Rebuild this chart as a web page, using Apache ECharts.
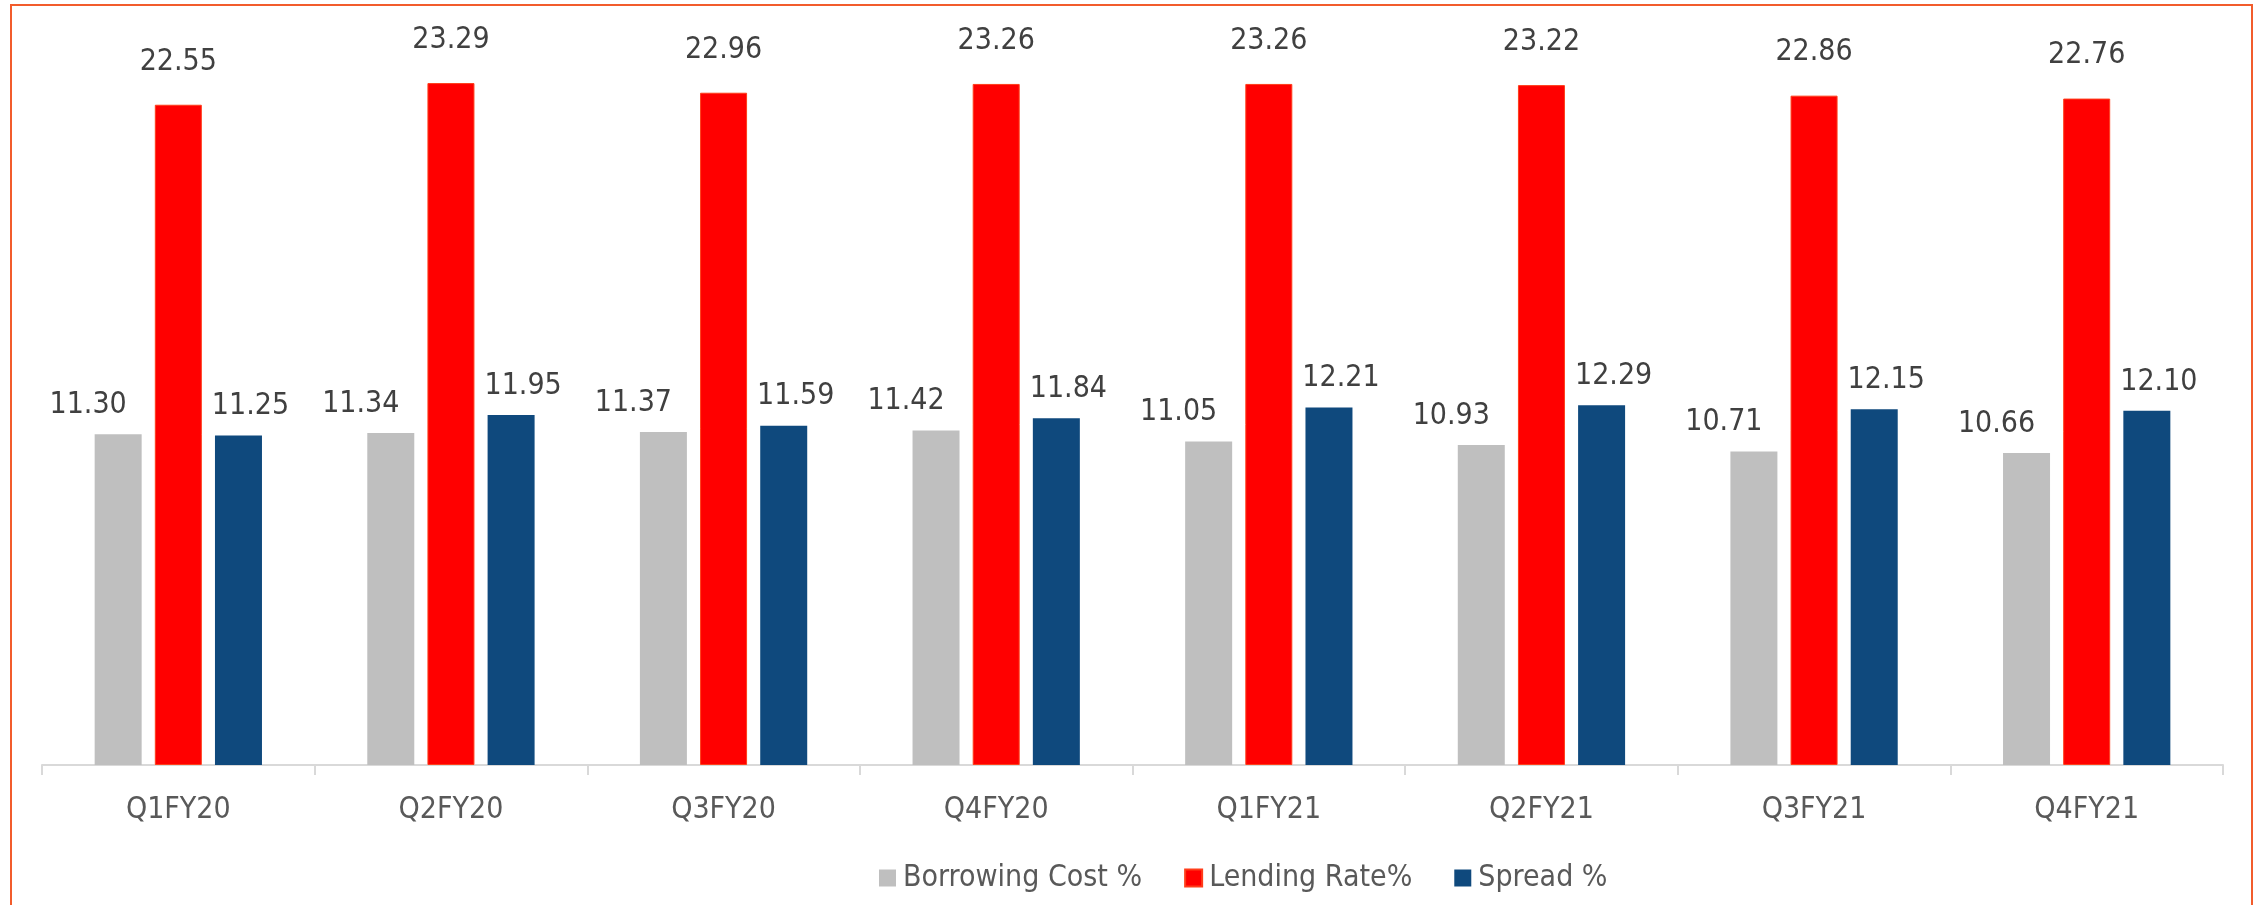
<!DOCTYPE html>
<html>
<head>
<meta charset="utf-8">
<script src="https://cdn.jsdelivr.net/npm/echarts@6/dist/echarts.min.js"></script>
<style>
  html, body { margin: 0; padding: 0; background: #ffffff; }
  #chart { width: 2258px; height: 905px; }
</style>
</head>
<body>
<div id="chart"></div>
<script>
var quarters = ['Q1FY20', 'Q2FY20', 'Q3FY20', 'Q4FY20', 'Q1FY21', 'Q2FY21', 'Q3FY21', 'Q4FY21'];
var borrowingCost = [11.30, 11.34, 11.37, 11.42, 11.05, 10.93, 10.71, 10.66];
var lendingRate = [22.55, 23.29, 22.96, 23.26, 23.26, 23.22, 22.86, 22.76];
var spread = [11.25, 11.95, 11.59, 11.84, 12.21, 12.29, 12.15, 12.10];

var fontName = "'DejaVu Sans Condensed', 'Liberation Sans Narrow', 'DejaVu Sans', sans-serif";

var myChart = echarts.init(document.getElementById('chart'));

var valueLabel = function (dist, offsetX) {
    return {
        show: true,
        position: 'top',
        distance: dist,
        offset: [offsetX, 0],
        color: '#404040',
        fontSize: 30,
        fontFamily: fontName,
        formatter: function (p) { return p.value.toFixed(2); }
    };
};

var option = {
    backgroundColor: '#ffffff',
    animation: false,
    graphic: [
        {
            type: 'rect',
            shape: { x: 11, y: 5, width: 2241, height: 1000 },
            style: { fill: 'none', stroke: '#F25C2C', lineWidth: 2 }
        }
    ],
    legend: {
        data: ['Borrowing Cost %', 'Lending Rate%', 'Spread %'],
        top: 858,
        left: 874,
        icon: 'rect',
        itemWidth: 17,
        itemHeight: 17,
        itemGap: 42,
        textStyle: {
            color: '#595959',
            fontSize: 30,
            fontFamily: fontName,
            padding: [0, 0, 0, 2]
        }
    },
    grid: {
        left: 42,
        right: 35,
        top: 33,
        bottom: 140
    },
    xAxis: {
        type: 'category',
        data: quarters,
        axisLine: { lineStyle: { color: '#D9D9D9', width: 2 } },
        axisTick: { show: true, length: 10, lineStyle: { color: '#D9D9D9', width: 2 } },
        axisLabel: {
            color: '#595959',
            fontSize: 30,
            fontFamily: fontName,
            margin: 30
        }
    },
    yAxis: {
        type: 'value',
        min: 0,
        max: 25,
        show: false,
        splitLine: { show: false }
    },
    series: [
        {
            name: 'Borrowing Cost %',
            type: 'bar',
            barWidth: 47,
            barGap: '28%',
            itemStyle: { color: '#BFBFBF' },
            label: valueLabel(14, -30),
            data: borrowingCost
        },
        {
            name: 'Lending Rate%',
            type: 'bar',
            barWidth: 47,
            barGap: '28%',
            itemStyle: { color: '#FF0000', borderColor: '#FF3D1A', borderWidth: 1 },
            label: valueLabel(28, 0),
            data: lendingRate
        },
        {
            name: 'Spread %',
            type: 'bar',
            barWidth: 47,
            barGap: '28%',
            itemStyle: { color: '#0F497D' },
            label: valueLabel(14, 12),
            data: spread
        }
    ]
};
myChart.setOption(option);
</script>
</body>
</html>
